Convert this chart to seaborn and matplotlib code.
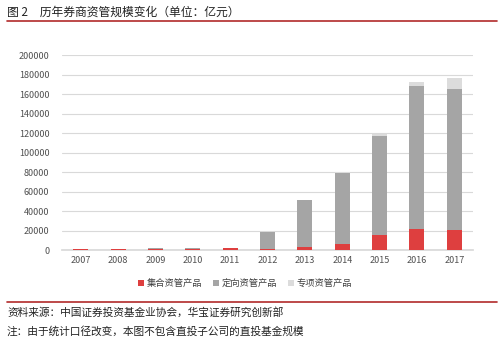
import matplotlib
matplotlib.use("Agg")
import matplotlib.pyplot as plt
from matplotlib.lines import Line2D
from matplotlib.patches import Patch
import seaborn as sns
import pandas as pd
import numpy as np

years = ["2007", "2008", "2009", "2010", "2011", "2012", "2013", "2014", "2015", "2016", "2017"]
collective = [700, 800, 1300, 1500, 1900, 1400, 3400, 6400, 15600, 21600, 20800]
directional = [100, 100, 300, 300, 600, 17400, 47900, 72900, 101500, 147000, 144000]
special = [0, 0, 0, 0, 0, 0, 100, 300, 1500, 4100, 11200]
series_names = ["集合资管产品", "定向资管产品", "专项资管产品"]
yticks = [0, 20000, 40000, 60000, 80000, 100000, 120000, 140000, 160000, 180000, 200000]

title = "图 2　历年券商资管规模变化（单位：亿元）"
source = "资料来源：中国证券投资基金业协会，华宝证券研究创新部"
note = "注：由于统计口径改变，本图不包含直投子公司的直投基金规模"

colors = ["#DE3F3F", "#A5A5A5", "#DCDCDC"]

sns.set_theme(style="white")
plt.rcParams['font.family'] = ['Noto Sans CJK SC', 'DejaVu Sans']

df = pd.DataFrame({"year": years, "c": collective, "d": directional, "s": special})
df["cd"] = df["c"] + df["d"]
df["cds"] = df["cd"] + df["s"]

fig = plt.figure(figsize=(5.0, 3.42), dpi=100)
ax = fig.add_axes([0.124, 0.269, 0.822, 0.570])

for col, colr in [("cds", colors[2]), ("cd", colors[1]), ("c", colors[0])]:
    sns.barplot(data=df, x="year", y=col, color=colr, width=0.4, ax=ax,
                saturation=1, linewidth=0, zorder=3)

ax.set_xlim(-0.5, 10.5)
ax.set_ylim(0, 200000)
ax.set_yticks(yticks)
ax.set_yticklabels([str(v) for v in yticks])
ax.yaxis.grid(True, color="#D9D9D9", linewidth=0.8, zorder=0)
ax.set_axisbelow(True)
for s in ["top", "right", "left"]:
    ax.spines[s].set_visible(False)
ax.spines["bottom"].set_color("#D9D9D9")
ax.set_xlabel("")
ax.set_ylabel("")
ax.tick_params(axis="both", length=0, labelsize=6.5, colors="#505050", pad=4)
ax.tick_params(axis="y", pad=9)

handles = [Patch(facecolor=c, edgecolor="none") for c in colors]
fig.legend(handles, series_names, loc="center", bbox_to_anchor=(0.49, 0.170),
           ncol=3, frameon=False, fontsize=6.7, handlelength=0.6, handleheight=0.6,
           handletextpad=0.3, columnspacing=1.2, labelcolor="#404040")

fig.text(0.014, 0.965, title, fontsize=8.5, color="#222222", va="center", ha="left")
fig.add_artist(Line2D([0.014, 0.994], [0.938, 0.938], color="#B22A2A", linewidth=1.2))
fig.add_artist(Line2D([0.014, 0.994], [0.117, 0.117], color="#B22A2A", linewidth=1.2))
fig.text(0.014, 0.085, source, fontsize=7.7, color="#222222", va="center", ha="left")
fig.text(0.014, 0.032, note, fontsize=7.7, color="#222222", va="center", ha="left")

fig.savefig("out.png", dpi=100, facecolor="white")
